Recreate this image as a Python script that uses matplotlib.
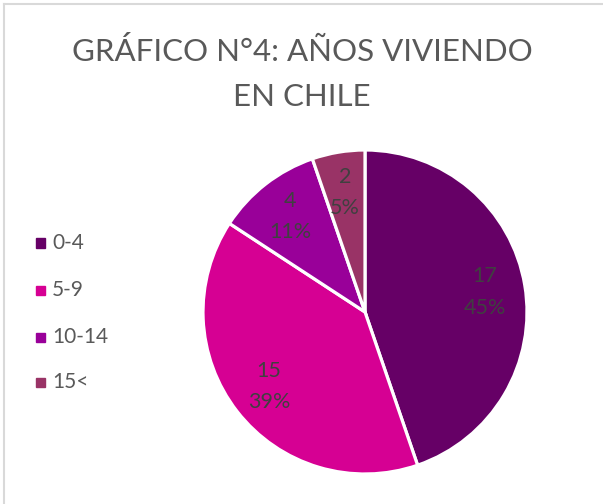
import matplotlib
matplotlib.use("Agg")
import matplotlib.pyplot as plt
from matplotlib.lines import Line2D
import numpy as np

categories = ["0-4", "5-9", "10-14", "15<"]
values = [17, 15, 4, 2]
percents = [45, 39, 11, 5]
colors = ["#660066", "#D60093", "#990099", "#993366"]
title = "GRÁFICO N°4: AÑOS VIVIENDO\nEN CHILE"

plt.rcParams['font.family'] = ['Lato', 'DejaVu Sans']

W, H = 603, 504
fig = plt.figure(figsize=(W/100, H/100), dpi=100)
fig.patch.set_facecolor("white")

# border (left and top visible)
fig.add_artist(Line2D([4/W, 4/W], [0, 1-4/H], color="#D9D9D9", lw=1.5, transform=fig.transFigure))
fig.add_artist(Line2D([4/W, 1], [1-4/H, 1-4/H], color="#D9D9D9", lw=1.5, transform=fig.transFigure))

cx, cy, r = 365, 312, 162
ax = fig.add_axes([(cx-r)/W, 1-(cy+r)/H, 2*r/W, 2*r/H])
wedges, _ = ax.pie(values, colors=colors, startangle=90, counterclock=False,
                   wedgeprops=dict(edgecolor="white", linewidth=2.3), radius=1)
ax.set_xlim(-1, 1); ax.set_ylim(-1, 1)
ax.set_aspect("equal")
ax.axis("off")

for w, v, p in zip(wedges, values, percents):
    ang = np.deg2rad((w.theta1 + w.theta2) / 2)
    rr = 0.75
    ax.text(rr*np.cos(ang), rr*np.sin(ang), f"{v}\n{p}%", ha="center", va="center",
            fontsize=15.5, color="#404040", linespacing=1.7)

fig.text(302/W, 1-74/H, title, ha="center", va="center", fontsize=22.5, color="#595959",
         linespacing=1.72)

ly = [243, 290, 337, 382]
for y, c, lab in zip(ly, colors, categories):
    fig.patches.append(plt.Rectangle(((36)/W, 1-(y+4.5)/H), 9/W, 9/H, color=c, transform=fig.transFigure))
    fig.text(52/W, 1-y/H, lab, ha="left", va="center", fontsize=15, color="#595959")

fig.savefig("out.png", dpi=100)
